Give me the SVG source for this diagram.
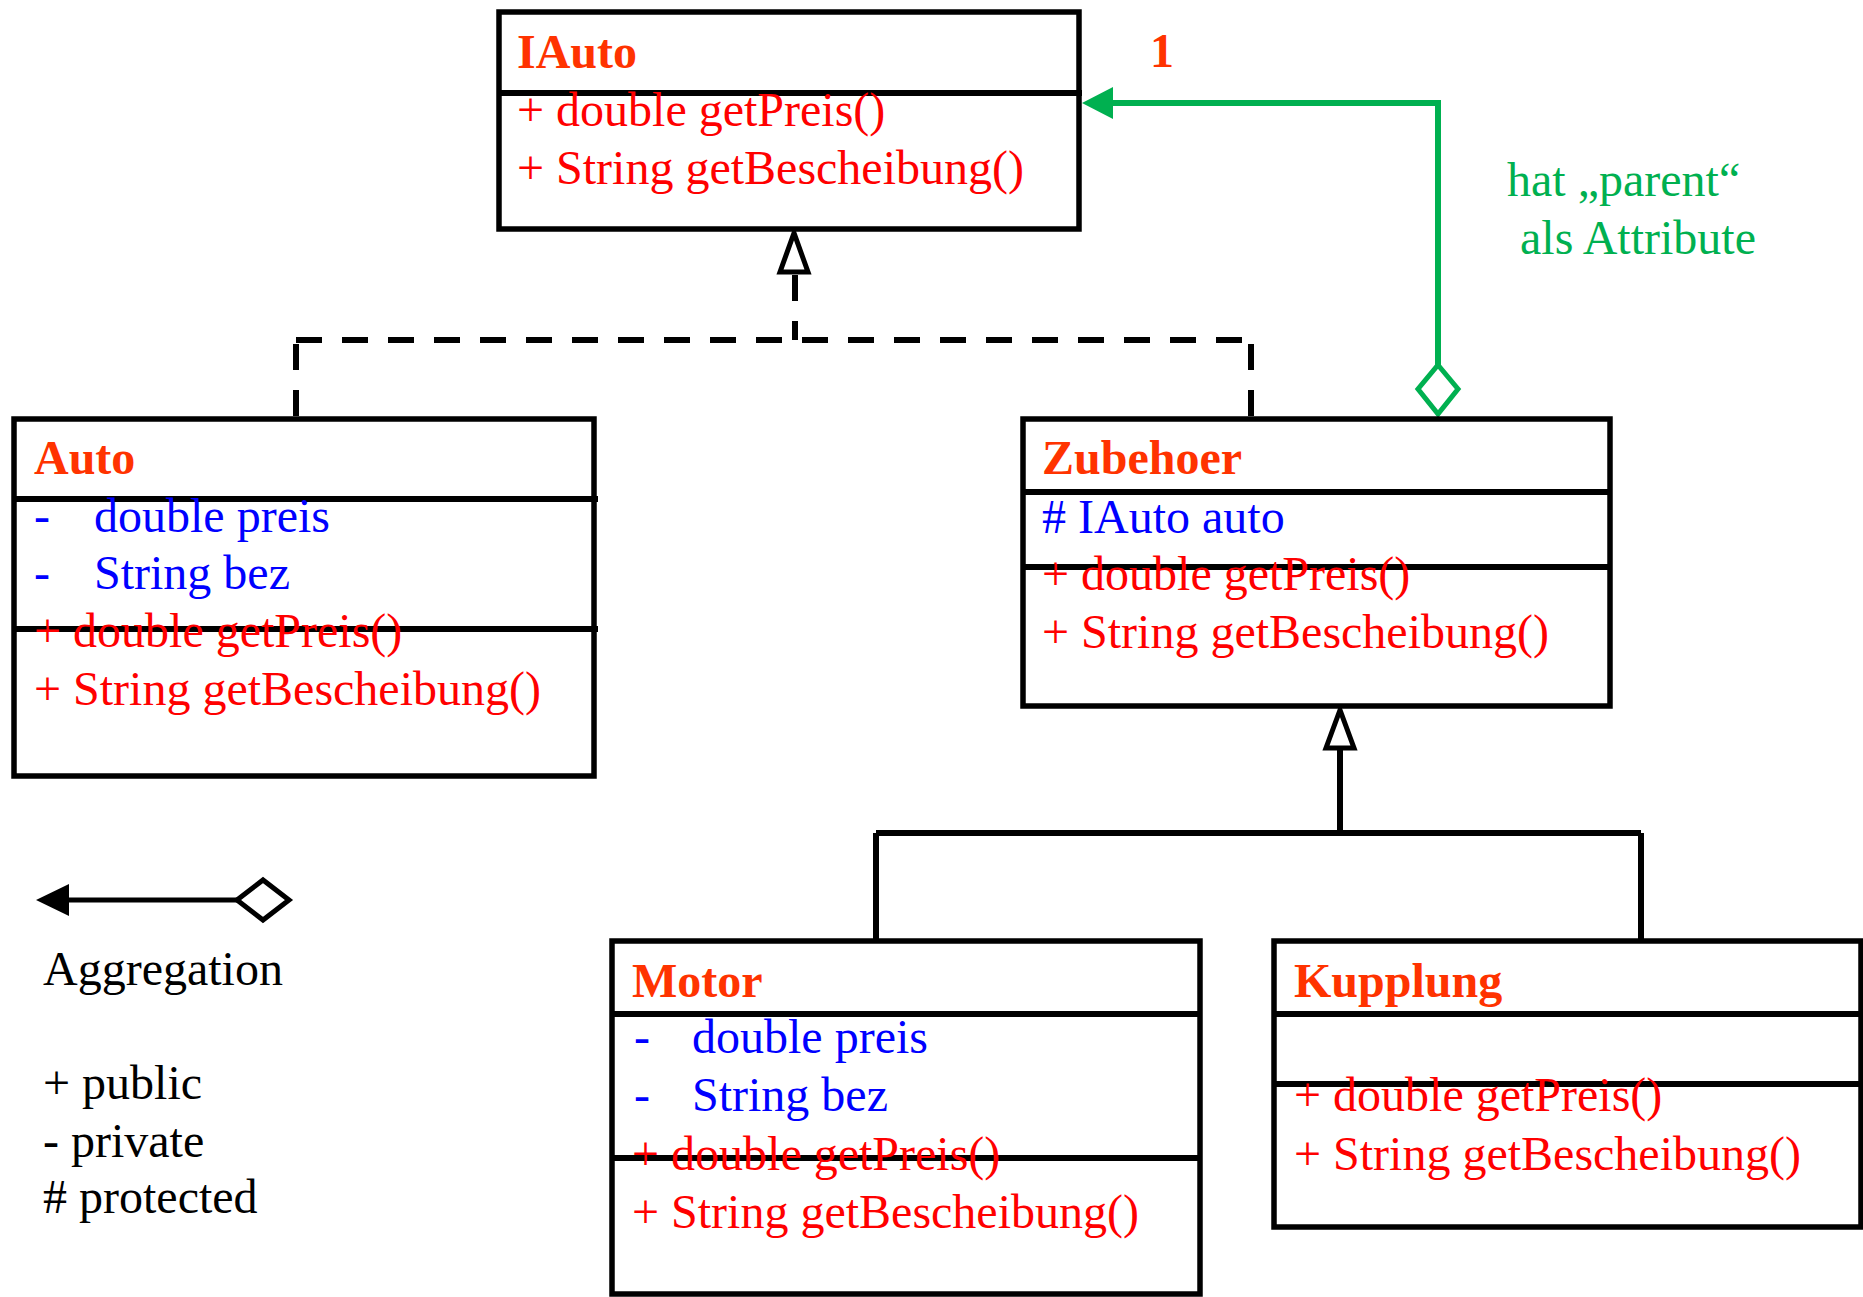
<svg xmlns="http://www.w3.org/2000/svg" width="1863" height="1297" viewBox="0 0 1863 1297">
<style>
text{font-family:"Liberation Serif","Times New Roman",serif;font-size:48px}
.t{font-weight:bold;fill:#FF3300}
.m{fill:#FF0000}
.a{fill:#0000FF}
.g{fill:#00B050}
.k{fill:#000000}
.box{fill:#FFFFFF;stroke:#000;stroke-width:5.5}
.div{stroke:#000;stroke-width:6}
.con{fill:none;stroke:#000;stroke-width:6}
.dash{fill:none;stroke:#000;stroke-width:6;stroke-dasharray:26 20}
.head{fill:#FFFFFF;stroke:#000;stroke-width:5;stroke-linejoin:miter}
.green{fill:none;stroke:#00B050;stroke-width:6}
</style>
<rect width="1863" height="1297" fill="#FFFFFF"/>

<g id="connectors">
  <!-- realization Auto/Zubehoer -> IAuto -->
  <path class="dash" d="M795,275 V340"/>
  <path class="dash" d="M296,340 H1251"/>
  <path class="dash" d="M296,344 V418"/>
  <path class="dash" d="M1251,344 V418"/>
  <polygon class="head" points="794,233 780,272 808,272"/>
  <!-- generalization Motor/Kupplung -> Zubehoer -->
  <path class="con" d="M1340,748 V833 M876,833 H1641 M876,833 V941 M1641,833 V941"/>
  <polygon class="head" points="1340,710 1326,748 1354,748"/>
  <!-- aggregation Zubehoer -> IAuto -->
  <path class="green" d="M1438,365 V103 H1110"/>
  <polygon points="1082,103 1113,87 1113,119" fill="#00B050"/>
  <polygon points="1438,365 1458,389 1438,414 1418,389" fill="#FFFFFF" stroke="#00B050" stroke-width="5"/>
  <text class="t" x="1150" y="67">1</text>
  <text class="g" x="1507" y="196">hat „parent“</text>
  <text class="g" x="1520" y="254">als Attribute</text>
</g>

<g id="IAuto">
  <rect class="box" x="499" y="12" width="580" height="217"/>
  <line class="div" x1="499" y1="93" x2="1082" y2="93"/>
  <text class="t" x="517" y="68">IAuto</text>
  <text class="m" x="517" y="126">+ double getPreis()</text>
  <text class="m" x="517" y="184">+ String getBescheibung()</text>
</g>

<g id="Auto">
  <rect class="box" x="14" y="419" width="580" height="357"/>
  <line class="div" x1="14" y1="499" x2="598" y2="499"/>
  <line class="div" x1="14" y1="629" x2="598" y2="629"/>
  <text class="t" x="34" y="474">Auto</text>
  <text class="a" x="34" y="532">-<tspan x="94">double preis</tspan></text>
  <text class="a" x="34" y="589">-<tspan x="94">String bez</tspan></text>
  <text class="m" x="34" y="647">+ double getPreis()</text>
  <text class="m" x="34" y="705">+ String getBescheibung()</text>
</g>

<g id="Zubehoer">
  <rect class="box" x="1023" y="419" width="587" height="287"/>
  <line class="div" x1="1023" y1="492" x2="1610" y2="492"/>
  <line class="div" x1="1023" y1="567" x2="1610" y2="567"/>
  <text class="t" x="1042" y="474">Zubehoer</text>
  <text class="a" x="1042" y="533"># IAuto auto</text>
  <text class="m" x="1042" y="590">+ double getPreis()</text>
  <text class="m" x="1042" y="648">+ String getBescheibung()</text>
</g>

<g id="Motor">
  <rect class="box" x="612" y="941" width="588" height="353"/>
  <line class="div" x1="612" y1="1014" x2="1200" y2="1014"/>
  <line class="div" x1="612" y1="1158" x2="1200" y2="1158"/>
  <text class="t" x="632" y="997">Motor</text>
  <text class="a" x="634" y="1053">-<tspan x="692">double preis</tspan></text>
  <text class="a" x="634" y="1111">-<tspan x="692">String bez</tspan></text>
  <text class="m" x="632" y="1170">+ double getPreis()</text>
  <text class="m" x="632" y="1228">+ String getBescheibung()</text>
</g>

<g id="Kupplung">
  <rect class="box" x="1274" y="941" width="587" height="286"/>
  <line class="div" x1="1274" y1="1014" x2="1861" y2="1014"/>
  <line class="div" x1="1274" y1="1084" x2="1861" y2="1084"/>
  <text class="t" x="1294" y="997">Kupplung</text>
  <text class="m" x="1294" y="1111">+ double getPreis()</text>
  <text class="m" x="1294" y="1170">+ String getBescheibung()</text>
</g>

<g id="legend">
  <line x1="66" y1="900" x2="237" y2="900" stroke="#000" stroke-width="5"/>
  <polygon points="36,900 69,884 69,916" fill="#000"/>
  <polygon points="237,900 263,880 289,900 263,920" fill="#FFFFFF" stroke="#000" stroke-width="5"/>
  <text class="k" x="43" y="985">Aggregation</text>
  <text class="k" x="43" y="1099">+ public</text>
  <text class="k" x="43" y="1157">- private</text>
  <text class="k" x="43" y="1213"># protected</text>
</g>
</svg>
